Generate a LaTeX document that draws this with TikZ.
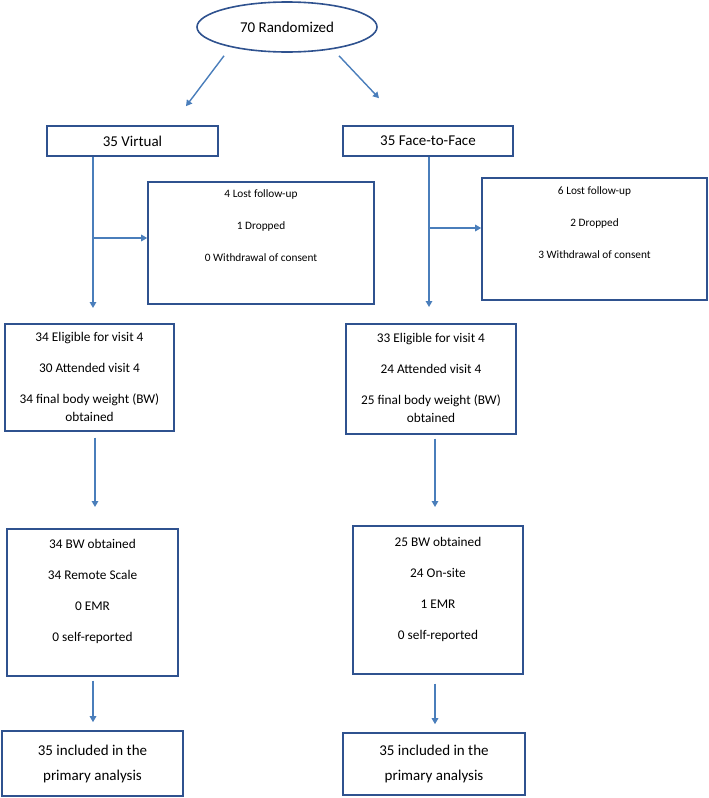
\documentclass[tikz,border=0pt]{standalone}
\usepackage{fontspec}
\setmainfont{Carlito}
\usepackage{tikz}
\usetikzlibrary{arrows.meta, shapes.geometric}
\definecolor{boxblue}{HTML}{2F528F}
\definecolor{arrowblue}{HTML}{4A7EBB}
\tikzset{%
	flowbox/.style={
		rectangle,
		draw=boxblue,
		line width=1.6pt,
		align=center,
		inner ysep=4pt
	},
	bigtext/.style={font=\fontsize{15}{25}\selectfont},
	midtext/.style={font=\fontsize{13.3}{18}\selectfont},
	smalltext/.style={font=\fontsize{11.3}{32}\selectfont},
	flowarrow/.style={
		draw=arrowblue,
		line width=1.4pt,
		-{Triangle[length=6pt,width=6.5pt]}
	},
}

\begin{document}
\begin{tikzpicture}[x=1pt,y=-1pt]
			\useasboundingbox (0,0) rectangle (709,798);
			
			% Randomisation
			\node[ellipse, draw=boxblue, line width=1.6pt, minimum width=180pt, minimum height=50pt, inner sep=0pt, bigtext] (rand) at (287,27) {70 Randomized};
			
			% Study arms
			\node[flowbox, bigtext, minimum width=171pt, minimum height=30pt] (virtual) at (132.5,141) {35 Virtual};
			\node[flowbox, bigtext, minimum width=170pt, minimum height=30pt] (face) at (428,141) {35 Face-to-Face};
			
			% Lost / dropped
			\node[flowbox, smalltext, minimum width=226pt, anchor=north, text height=75.5pt, text depth=38.5pt] (lost1) at (261,181) {4 Lost follow-up\\1 Dropped\\0 Withdrawal of consent};
			\node[flowbox, smalltext, minimum width=225pt, anchor=north, text height=76.5pt, text depth=37.5pt] (lost2) at (594.5,177) {6 Lost follow-up\\2 Dropped\\3 Withdrawal of consent};
			
			% Visit 4
			\node[flowbox, midtext, minimum width=169pt, anchor=north, text height=94pt, text depth=5pt] (elig1) at (89.5,323) {34 Eligible for visit 4\\[13pt]30 Attended visit 4\\[13pt]34 final body weight (BW)\\obtained};
			\node[flowbox, midtext, minimum width=170pt, anchor=north, text height=95pt, text depth=7pt] (elig2) at (431,323) {33 Eligible for visit 4\\[13pt]24 Attended visit 4\\[13pt]25 final body weight (BW)\\obtained};
			
			% Body weight source
			\node[flowbox, font=\fontsize{13.3}{31}\selectfont, minimum width=171pt, anchor=north, text height=109pt, text depth=30pt] (bw1) at (92.5,528) {34 BW obtained\\34 Remote Scale\\0 EMR\\0 self-reported};
			\node[flowbox, font=\fontsize{13.3}{31}\selectfont, minimum width=170pt, anchor=north, text height=110pt, text depth=30pt] (bw2) at (438,525) {25 BW obtained\\24 On-site\\1 EMR\\0 self-reported};
			
			% Analysis
			\node[flowbox, bigtext, minimum width=181pt, minimum height=65pt] (final1) at (92.5,763.5) {35 included in the\\primary analysis};
			\node[flowbox, bigtext, minimum width=182pt, minimum height=62pt] (final2) at (434,764) {35 included in the\\primary analysis};
			
			% Split points
			\coordinate (vsplit) at (93,238);
			\coordinate (fsplit) at (429,228);
			
			% Arrows
			\draw[flowarrow] ([xshift=-63pt,yshift=-3pt]rand.south) -- ([xshift=53.5pt,yshift=19pt]virtual.north);
			\draw[flowarrow] ([xshift=52pt,yshift=-3pt]rand.south) -- ([xshift=-49pt,yshift=27pt]face.north);
			
			\draw[flowarrow] (virtual.south -| vsplit) -- ([yshift=15pt]elig1.north -| vsplit);
			\draw[flowarrow] (vsplit) -- (lost1.west |- vsplit);
			\draw[flowarrow] (face.south -| fsplit) -- ([yshift=16pt]elig2.north -| fsplit);
			\draw[flowarrow] (fsplit) -- (lost2.west |- fsplit);
			
			\draw[flowarrow] ([xshift=5.5pt,yshift=-6pt]elig1.south) -- ([xshift=2.5pt,yshift=21pt]bw1.north);
			\draw[flowarrow] ([xshift=4pt,yshift=-4pt]elig2.south) -- ([xshift=-3pt,yshift=18pt]bw2.north);
			
			\draw[flowarrow] ([xshift=0.5pt,yshift=-4pt]bw1.south) -- ([xshift=0.5pt,yshift=8pt]final1.north);
			\draw[flowarrow] ([xshift=-3pt,yshift=-9pt]bw2.south) -- ([xshift=1pt,yshift=8pt]final2.north);
			
		\end{tikzpicture}
\end{document}
